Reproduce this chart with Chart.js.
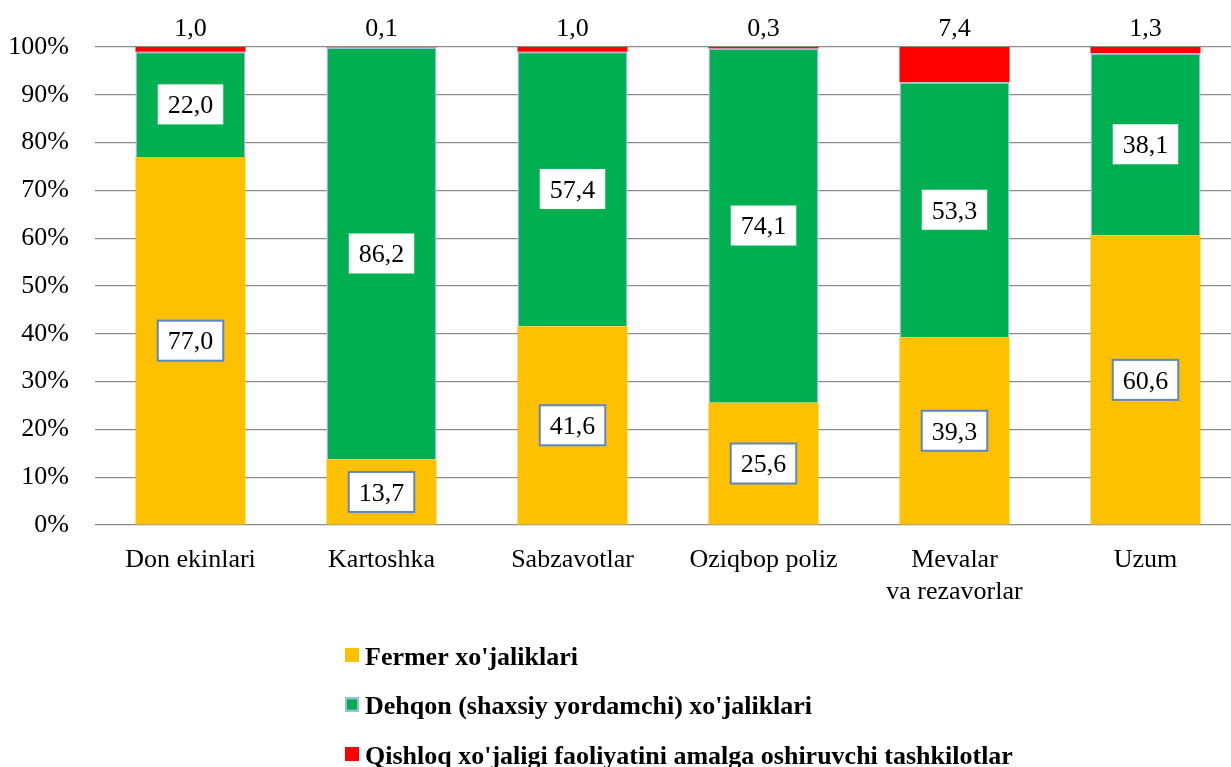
<!DOCTYPE html>
<html>
<head>
<meta charset="utf-8">
<script src="https://cdn.jsdelivr.net/npm/chart.js@4/dist/chart.umd.min.js"></script>
<style>
  html, body { margin: 0; padding: 0; background: #fff; overflow: hidden; }
  #chart { display: block; }
</style>
</head>
<body>
<canvas id="chart" width="1245" height="767"></canvas>
<script>
// categories (multi-line labels as arrays)
const categories = [
  'Don ekinlari',
  'Kartoshka',
  'Sabzavotlar',
  'Oziqbop poliz',
  ['Mevalar', 'va rezavorlar'],
  'Uzum',
]
const fermer = [77.0, 13.7, 41.6, 25.6, 39.3, 60.6]
const dehqon = [22.0, 86.2, 57.4, 74.1, 53.3, 38.1]
const tashkilot = [1.0, 0.1, 1.0, 0.3, 7.4, 1.3]
const seriesNames = [
  "Fermer xo'jaliklari",
  "Dehqon (shaxsiy yordamchi) xo'jaliklari",
  "Qishloq xo'jaligi faoliyatini amalga oshiruvchi tashkilotlar",
]

const YELLOW = '#FFC000'
const GREEN = '#00B050'
const RED = '#FF0000'
const GREEN_EDGE = '#9DB9E1'
const BOX_EDGE = '#5B87C5'
const GRID = '#8c8c8c'
const FONT = "'Liberation Serif', 'Times New Roman', serif"
const FS = 26

const fmt = v => v.toFixed(1).replace('.', ',')

// value labels: boxed inside segments, plain above the chart for the top series
const valueLabels = {
  id: 'valueLabels',
  afterDatasetsDraw(chart) {
    const { ctx, chartArea } = chart
    ctx.save()
    ctx.font = `${FS}px ${FONT}`
    ctx.textAlign = 'center'
    ctx.textBaseline = 'middle'
    chart.data.datasets.forEach((ds, di) => {
      const meta = chart.getDatasetMeta(di)
      meta.data.forEach((bar, i) => {
        const text = fmt(ds.data[i])
        if (di === 2) {
          ctx.fillStyle = '#000'
          ctx.fillText(text, bar.x, chartArea.top - 18)
          return
        }
        const cy = (bar.y + bar.base) / 2
        const w = ctx.measureText(text).width + 20
        const h = 40
        ctx.fillStyle = '#fff'
        ctx.fillRect(bar.x - w / 2, cy - h / 2, w, h)
        if (di === 0) {
          ctx.strokeStyle = BOX_EDGE
          ctx.lineWidth = 2
          ctx.strokeRect(bar.x - w / 2, cy - h / 2, w, h)
        }
        ctx.fillStyle = '#000'
        ctx.fillText(text, bar.x, cy + 2)
      })
    })
    ctx.restore()
  }
}

// vertical legend under the chart
const stackedLegend = {
  id: 'stackedLegend',
  afterDraw(chart) {
    const { ctx } = chart
    ctx.save()
    ctx.font = `bold ${FS}px ${FONT}`
    ctx.textAlign = 'left'
    ctx.textBaseline = 'middle'
    chart.data.datasets.forEach((ds, di) => {
      const y = 648 + di * 49.5
      ctx.fillStyle = ds.backgroundColor
      ctx.fillRect(345, y, 14, 14)
      if (di === 1) {
        ctx.strokeStyle = GREEN_EDGE
        ctx.lineWidth = 2
        ctx.strokeRect(346, y + 1, 12, 12)
      }
      ctx.fillStyle = '#000'
      ctx.fillText(ds.label, 365, y + 10)
    })
    ctx.restore()
  }
}

new Chart(document.getElementById('chart'), {
  type: 'bar',
  data: {
    labels: categories,
    datasets: [
      {
        label: seriesNames[0],
        data: fermer,
        backgroundColor: YELLOW,
        borderWidth: 0,
      },
      {
        label: seriesNames[1],
        data: dehqon,
        backgroundColor: GREEN,
        borderColor: GREEN_EDGE,
        borderWidth: 1.5,
      },
      {
        label: seriesNames[2],
        data: tashkilot,
        backgroundColor: RED,
        borderWidth: 0,
      },
    ],
  },
  options: {
    responsive: false,
    animation: false,
    layout: { padding: { top: 47, right: 4, bottom: 142, left: 0 } },
    datasets: { bar: { barPercentage: 1, categoryPercentage: 0.576 } },
    scales: {
      x: {
        stacked: true,
        grid: { display: false },
        border: { display: false },
        ticks: {
          color: '#000',
          padding: 12,
          font: { family: FONT, size: FS, lineHeight: 1.2 },
          maxRotation: 0,
        },
        afterFit: s => { s.height = 100 },
      },
      y: {
        stacked: true,
        min: 0,
        max: 100,
        border: { display: false },
        grid: { color: GRID, lineWidth: 1.2, drawTicks: false },
        ticks: {
          stepSize: 10,
          color: '#000',
          padding: 26,
          font: { family: FONT, size: FS },
          callback: v => v + '%',
        },
        afterFit: s => { s.width = 95 },
      },
    },
    plugins: {
      legend: { display: false },
      tooltip: { enabled: false },
    },
  },
  plugins: [valueLabels, stackedLegend],
})
</script>
</body>
</html>
